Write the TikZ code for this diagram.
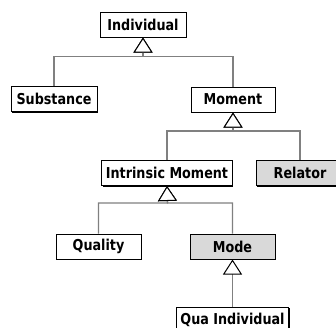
\documentclass[tikz,border=0pt]{standalone}
\usepackage{fontspec}
\setmainfont{DejaVu Sans}
\newfontfamily\labelfont{DejaVu Sans}[FakeStretch=0.85]
\usetikzlibrary{arrows.meta,shadows}
\definecolor{boxgray}{HTML}{D9D9D9}
\definecolor{linkgray}{HTML}{808080}
\begin{document}
\begin{tikzpicture}[x=1pt,y=-1pt,
  cls/.style={draw=black, line width=1pt, fill=white, minimum height=25,
    inner xsep=4pt, inner ysep=0pt,
    font=\labelfont\fontsize{15}{17}\selectfont\bfseries,
    general shadow={shadow xshift=1pt, shadow yshift=-1pt, fill=black}},
  shaded/.style={cls, fill=boxgray},
  gen/.style={draw=linkgray, line width=1.2pt,
    -{Triangle[width=19pt, length=15pt, fill=white, color=black, line width=1pt]}}]
  \useasboundingbox (0,0) rectangle (336,327);
  \clip (0,0) rectangle (336,327);

  % classes
  \node[cls, minimum width=86] (ind)  at (143,24.5)  {Individual};
  \node[cls, minimum width=86] (sub)  at (54,99)     {Substance};
  \node[cls, minimum width=84] (mom)  at (233,99.5)  {Moment};
  \node[cls, minimum width=130] (intr) at (167,173)  {Intrinsic Moment};
  \node[shaded, minimum width=88] (rel) at (300,173) {Relator};
  \node[cls, minimum width=85] (qual) at (98.5,246.5) {Quality};
  \node[shaded, minimum width=85] (mode) at (232.5,246.5) {Mode};
  \node[cls, minimum width=111] (qua) at (232.5,319.5) {Qua Individual};

  % junction points of the generalization sets
  \coordinate (j1) at (143,56.5);
  \coordinate (j2) at (233,131);
  \coordinate (j3) at (167.5,203);

  % generalizations
  \draw[gen] (sub.north)  |- (j1) -- (ind.south);
  \draw[gen] (mom.north)  |- (j1) -- (ind.south);
  \draw[gen] (intr.north) |- (j2) -- (mom.south);
  \draw[gen] (rel.north)  |- (j2) -- (mom.south);
  \draw[gen] (qual.north) |- (j3) -- (intr.south);
  \draw[gen] (mode.north) |- (j3) -- (intr.south);
  \draw[gen] (qua.north) -- (mode.south);
\end{tikzpicture}
\end{document}
